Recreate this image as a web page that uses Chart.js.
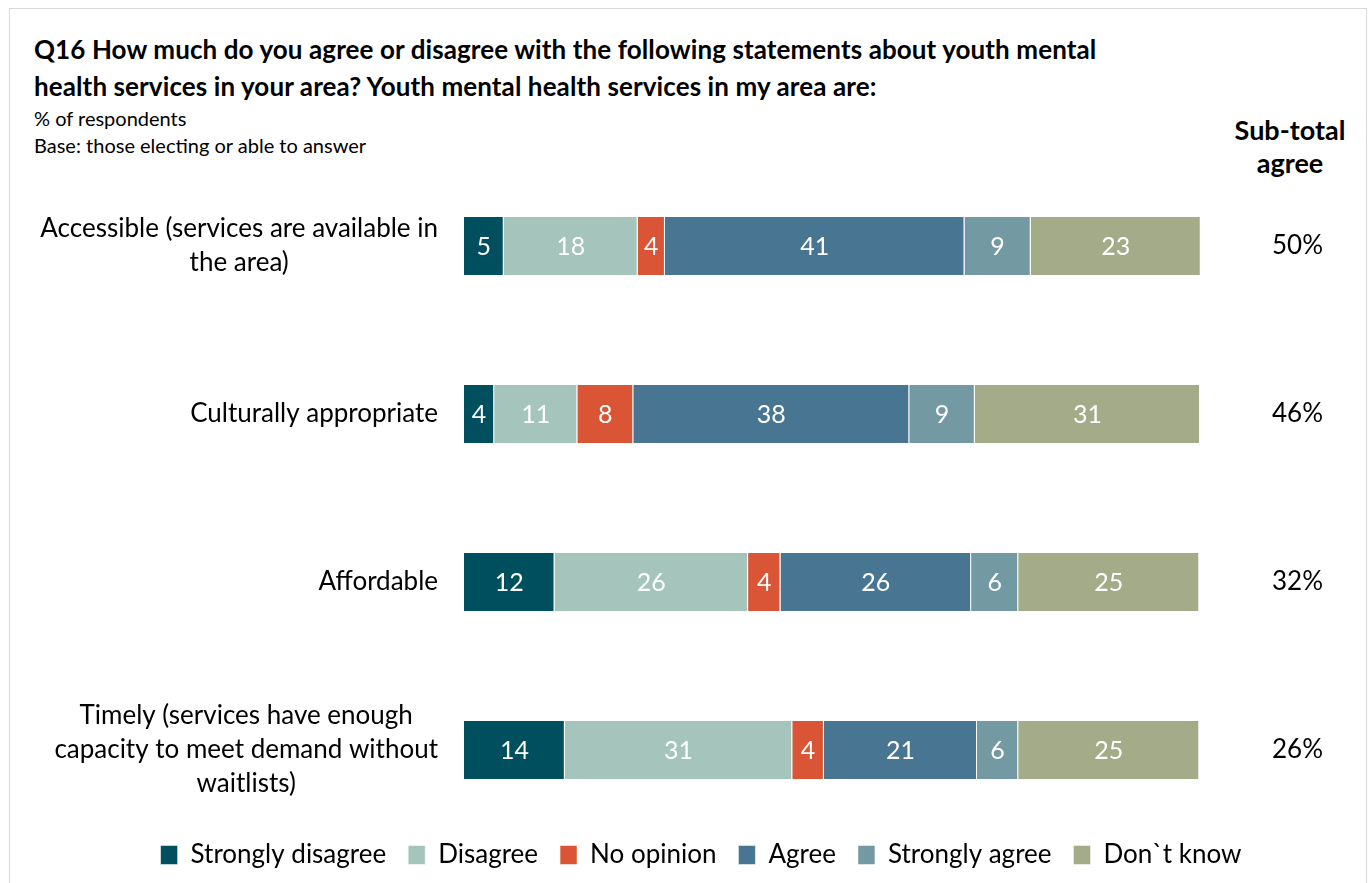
<!DOCTYPE html>
<html>
<head>
<meta charset="utf-8">
<script src="https://cdn.jsdelivr.net/npm/chart.js@4.4.1/dist/chart.umd.min.js"></script>
<style>
  body { margin: 0; width: 1370px; height: 883px; overflow: hidden; background: #fff; position: relative; font-family: Lato, "Noto Sans", sans-serif; color: #000; }
  .frame { position: absolute; left: 9px; top: 8px; width: 1356px; height: 900px; border: 1px solid #d9d9d9; }
  .title { position: absolute; left: 34px; top: 31px; font-size: 26px; font-weight: bold; line-height: 37px; letter-spacing: 0.1px; }
  .sub { position: absolute; left: 34px; font-size: 20px; line-height: 22px; }
  .subtotal-head { position: absolute; left: 1215px; width: 150px; top: 113px; text-align: center; font-size: 27px; font-weight: bold; line-height: 33px; }
  #wrap { position: absolute; left: 0; top: 0; width: 1370px; height: 883px; }
</style>
</head>
<body>
<div class="frame"></div>
<div class="title">Q16 How much do you agree or disagree with the following statements about youth mental<br>health services in your area? Youth mental health services in my area are:</div>
<div class="sub" style="top:107px">% of respondents</div>
<div class="sub" style="top:134px">Base: those electing or able to answer</div>
<div class="subtotal-head">Sub-total<br>agree</div>
<div id="wrap"><canvas id="chart"></canvas></div>
<script>
const categories = [
  ["Accessible (services are available in", "the area)"],
  ["Culturally appropriate"],
  ["Affordable"],
  ["Timely (services have enough", "capacity to meet demand without", "waitlists)"]
];
const seriesNames = ["Strongly disagree", "Disagree", "No opinion", "Agree", "Strongly agree", "Don`t know"];
const stronglyDisagree = [5.4, 4.1, 12.3, 13.7];
const disagree = [18.2, 11.3, 26.3, 30.9];
const noOpinion = [3.7, 7.6, 4.4, 4.3];
const agree = [40.7, 37.5, 25.9, 20.8];
const stronglyAgree = [9.0, 8.9, 6.4, 5.6];
const dontKnow = [23.1, 30.6, 24.6, 24.6];
const colors = ["#004f5f", "#a4c4bc", "#da5535", "#487591", "#7399a2", "#a3ab89"];

const subtotalLabels = agree.map((v, i) => Math.round(v + stronglyAgree[i]) + "%");

const FONT = "Lato, 'Noto Sans', sans-serif";

// numbers inside the segments
const segmentLabels = {
  id: "segmentLabels",
  afterDatasetsDraw(chart) {
    const ctx = chart.ctx;
    ctx.save();
    ctx.font = "25px " + FONT;
    ctx.fillStyle = "#fff";
    ctx.textAlign = "center";
    ctx.textBaseline = "middle";
    chart.data.datasets.forEach((ds, di) => {
      chart.getDatasetMeta(di).data.forEach((bar, i) => {
        ctx.fillText(Math.round(ds.data[i]), (bar.x + bar.base) / 2, bar.y + 1);
      });
    });
    ctx.restore();
  }
};

// category names, wrapped block centred and right-aligned against the bars
const categoryLabels = {
  id: "categoryLabels",
  afterDraw(chart) {
    const ctx = chart.ctx;
    const y = chart.scales.y;
    const right = chart.chartArea.left - 26;
    const lineH = 34;
    ctx.save();
    ctx.font = "26px " + FONT;
    ctx.fillStyle = "#000";
    ctx.textAlign = "center";
    ctx.textBaseline = "middle";
    categories.forEach((lines, i) => {
      const cy = y.getPixelForTick(i);
      const widest = Math.max(...lines.map((l) => ctx.measureText(l).width));
      const cx = right - widest / 2;
      lines.forEach((l, j) => {
        ctx.fillText(l, cx, cy + (j - (lines.length - 1) / 2) * lineH);
      });
    });
    ctx.restore();
  }
};

// pull the legend row up closer to the bars
const legendNudge = {
  id: "legendNudge",
  afterLayout(chart) {
    if (chart.legend) {
      chart.legend.top -= 14;
      chart.legend.bottom -= 14;
    }
  }
};

const series = [stronglyDisagree, disagree, noOpinion, agree, stronglyAgree, dontKnow];

new Chart(document.getElementById("chart"), {
  type: "bar",
  data: {
    labels: categories.map((c) => c.join(" ")),
    datasets: series.map((data, i) => ({
      label: seriesNames[i],
      data: data,
      backgroundColor: colors[i],
      borderColor: "rgba(255,255,255,0.5)",
      borderWidth: 1,
      categoryPercentage: 1,
      barPercentage: 0.357,
    })),
  },
  options: {
    indexAxis: "y",
    responsive: true,
    maintainAspectRatio: false,
    animation: false,
    layout: { padding: { left: 32, right: 0, top: 162, bottom: 0 } },
    scales: {
      x: { stacked: true, min: 0, max: 100, display: false },
      y: {
        stacked: true,
        grid: { display: false },
        border: { display: false },
        ticks: { display: false },
        afterFit(scale) { scale.width = 432; },
      },
      y2: {
        type: "category",
        position: "right",
        labels: subtotalLabels,
        offset: true,
        grid: { display: false },
        border: { display: false },
        ticks: { color: "#000", font: { size: 26, family: FONT }, padding: 64, crossAlign: "near" },
        afterFit(scale) {
          scale.width = 170;
          // the big tick padding should not push the plot area in vertically
          scale.paddingTop = 0;
          scale.paddingBottom = 0;
        },
      },
    },
    plugins: {
      legend: {
        position: "bottom",
        maxHeight: 49,
        labels: {
          color: "#000",
          font: { size: 26, family: FONT },
          boxWidth: 17,
          boxHeight: 19,
          padding: 22,
        },
      },
      tooltip: { enabled: false },
    },
  },
  plugins: [segmentLabels, categoryLabels, legendNudge],
});
</script>
</body>
</html>
